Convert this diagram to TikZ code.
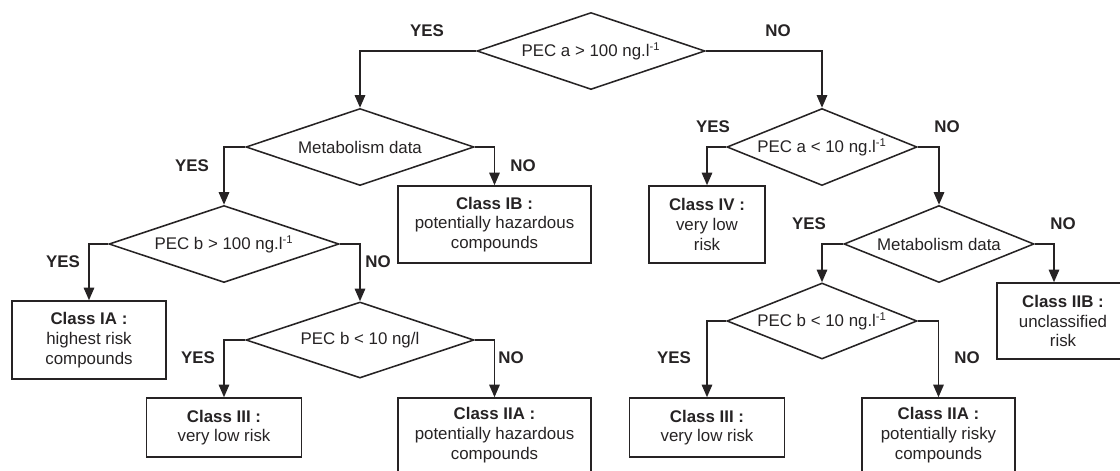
\documentclass[tikz,border=0pt]{standalone}
\usepackage{fontspec}
\setmainfont{Liberation Sans}
\usetikzlibrary{shapes.geometric,arrows.meta}
\definecolor{ink}{HTML}{262324}

\tikzset{
  decision/.style={draw=ink, diamond, inner sep=0pt, shape aspect=3, text=ink},
  result/.style={draw=ink, rectangle, inner sep=0pt, align=center, text=ink},
  answer/.style={text=ink, font=\fontsize{12}{14}\selectfont\bfseries},
  flow/.style={draw=ink, -{Triangle[length=9pt,width=7.5pt]}}
}

\begin{document}
\begin{tikzpicture}[x=0.025cm, y=-0.025cm, line width=1.1pt,
    every node/.append style={font=\fontsize{12}{14}\selectfont}]
  \useasboundingbox (0,0) rectangle (1120,470);

  % questions
  \node[decision, minimum width=5.7cm, minimum height=1.925cm] (pecA100) at (591,51) {PEC a > 100 ng.l\textsuperscript{-1}};
  \node[decision, minimum width=5.7cm, minimum height=1.925cm] (metaL) at (360,147) {Metabolism data};
  \node[decision, minimum width=5.75cm, minimum height=1.925cm] (pecB100) at (224,244) {PEC b > 100 ng.l\textsuperscript{-1}};
  \node[decision, minimum width=5.7cm, minimum height=1.9cm] (pecB10L) at (360,340) {PEC b < 10 ng/l};
  \node[decision, minimum width=4.75cm, minimum height=1.925cm] (pecA10) at (822,147) {PEC a < 10 ng.l\textsuperscript{-1}};
  \node[decision, minimum width=4.75cm, minimum height=1.925cm] (metaR) at (939,244) {Metabolism data};
  \node[decision, minimum width=4.75cm, minimum height=1.9cm] (pecB10R) at (822,321) {PEC b < 10 ng.l\textsuperscript{-1}};

  % classes
  \node[result, minimum width=3.85cm, minimum height=1.95cm] (classIA) at (89,340) {\textbf{Class IA :}\\highest risk\\compounds};
  \node[result, minimum width=4.825cm, minimum height=1.925cm] (classIB) at (494.5,224.5) {\textbf{Class IB :}\\potentially hazardous\\compounds};
  \node[result, minimum width=3.875cm, minimum height=1.475cm] (classIIIL) at (224,427.5) {\textbf{Class III :}\\very low risk};
  \node[result, minimum width=4.825cm, minimum height=1.85cm] (classIIAL) at (494.5,435) {\textbf{Class IIA :}\\potentially hazardous\\compounds};
  \node[result, minimum width=2.9cm, minimum height=1.925cm] (classIV) at (707,224.5) {\textbf{Class IV :}\\very low\\risk};
  \node[result, minimum width=3.3cm, minimum height=1.9cm] (classIIB) at (1063,321) {\textbf{Class IIB :}\\unclassified\\risk};
  \node[result, minimum width=3.875cm, minimum height=1.475cm] (classIIIR) at (707,427.5) {\textbf{Class III :}\\very low risk};
  \node[result, minimum width=3.825cm, minimum height=1.85cm] (classIIAR) at (938.5,435) {\textbf{Class IIA :}\\potentially risky\\compounds};

  % branches
  \draw[flow] (pecA100.west) -| (metaL.north);
  \draw[flow] (pecA100.east) -| (pecA10.north);
  \draw[flow] (metaL.west) -| (pecB100.north);
  \draw[flow] (metaL.east) -| (classIB.north);
  \draw[flow] (pecB100.west) -| (classIA.north);
  \draw[flow] (pecB100.east) -| (pecB10L.north);
  \draw[flow] (pecB10L.west) -| (classIIIL.north);
  \draw[flow] (pecB10L.east) -| (classIIAL.north);
  \draw[flow] (pecA10.west) -| (classIV.north);
  \draw[flow] (pecA10.east) -| (metaR.north);
  \draw[flow] (metaR.west) -| (pecB10R.north);
  \draw[flow] (metaR.east) -| ([xshift=-0.225cm]classIIB.north);
  \draw[flow] (pecB10R.west) -| (classIIIR.north);
  \draw[flow] (pecB10R.east) -| (classIIAR.north);

  % yes / no
  \node[answer] (yes1) at (427,31) {YES};
  \node[answer] (no1) at (778,31) {NO};
  \node[answer] (yes2) at (192,166) {YES};
  \node[answer] (no2) at (523,166) {NO};
  \node[answer] (yes3) at (63,262) {YES};
  \node[answer] (no3) at (378,262) {NO};
  \node[answer] (yes4) at (198,358) {YES};
  \node[answer] (no4) at (511,358) {NO};
  \node[answer] (yes5) at (713,127) {YES};
  \node[answer] (no5) at (947,127) {NO};
  \node[answer] (yes6) at (809,224) {YES};
  \node[answer] (no6) at (1063,224) {NO};
  \node[answer] (yes7) at (674,358) {YES};
  \node[answer] (no7) at (967,358) {NO};
\end{tikzpicture}
\end{document}
